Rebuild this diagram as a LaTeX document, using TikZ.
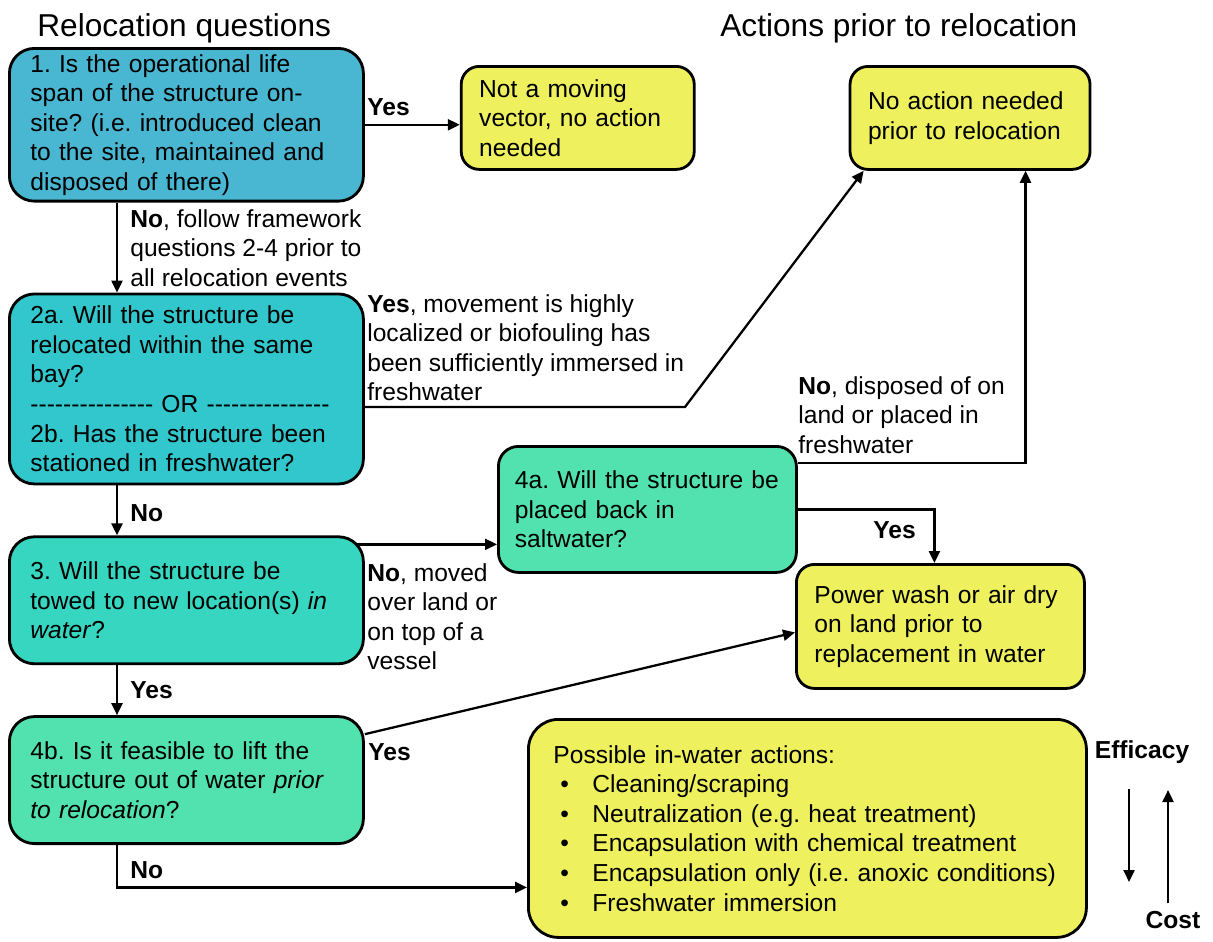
\documentclass[tikz,border=0pt]{standalone}
\usepackage{fontspec}
\setmainfont{Liberation Sans}
\usetikzlibrary{positioning, arrows.meta}
\definecolor{qone}{RGB}{73,183,209}
\definecolor{qtwo}{RGB}{49,199,204}
\definecolor{qthree}{RGB}{54,214,193}
\definecolor{qfour}{RGB}{82,226,175}
\definecolor{act}{RGB}{238,240,93}
\tikzset{%
  question/.style = {rectangle, rounded corners=0.5cm, draw, line width=1.6pt,
                     align=left, anchor=north west, inner xsep=0.42cm,
                     text width=6.24cm},
  action/.style = {rectangle, rounded corners=0.36cm, draw, line width=1.6pt,
                   fill=act, align=left, anchor=north west, inner xsep=0.36cm},
  answer/.style = {inner sep=0pt, align=left, anchor=north west},
  heading/.style = {inner sep=0pt, anchor=base west,
                    font=\fontsize{18pt}{21pt}\selectfont},
  arr/.style = {-{Triangle[length=0.24cm, width=0.22cm]}, line width=1.3pt}
}
\newcommand{\orrule}{\foreach \k in {1,...,15}{-\kern0pt}}
\newcommand{\bul}{\hspace*{0.14cm}\makebox[0.64cm][l]{\textbullet}}
\frenchspacing

\begin{document}
\begin{tikzpicture}[font=\fontsize{14pt}{16.8pt}\selectfont]
    \useasboundingbox (0,0) rectangle (24.26,-18.82);

    \node (head1) [heading] at (0.74,-0.72) {Relocation questions};
    \node (head2) [heading] at (14.4,-0.72) {Actions prior to relocation};

    % left column of questions
    \node (q1)  [question, fill=qone, minimum height=3.02cm] at (0.16,-0.94)
      {1. Is the operational life\\span of the structure on-\\site? (i.e. introduced clean\\to the site, maintained and\\disposed of there)};
    \node (q2)  [question, fill=qtwo, minimum height=3.8cm,
                 below right=1.8cm and 0cm of q1.south west]
      {2a. Will the structure be\\relocated within the same\\bay?\\\orrule{} OR \orrule\\2b. Has the structure been\\stationed in freshwater?};
    \node (q3)  [question, fill=qthree, minimum height=2.54cm,
                 below right=1.0cm and 0cm of q2.south west]
      {3. Will the structure be\\towed to new location(s) \textit{in}\\\textit{water}?};
    \node (q4b) [question, fill=qfour, minimum height=2.54cm,
                 below right=1.0cm and 0cm of q3.south west]
      {4b. Is it feasible to lift the\\structure out of water \textit{prior}\\\textit{to relocation}?};
    \node (q4a) [question, fill=qfour, rounded corners=0.4cm, inner xsep=0.33cm,
                 text width=5.3cm, minimum height=2.52cm] at (9.94,-8.9)
      {4a. Will the structure be\\placed back in\\saltwater?};

    % actions
    \node (y1)  [action, text width=3.94cm, minimum height=2.06cm,
                 below right=0.36cm and 1.9cm of q1.north east]
      {Not a moving\\vector, no action\\needed};
    \node (y2)  [action, anchor=west, text width=4.08cm, minimum height=2.06cm,
                 right=3.06cm of y1]
      {No action needed\\prior to relocation};
    \node (y3)  [action, text width=5.04cm, minimum height=2.48cm] at (15.9,-11.26)
      {Power wash or air dry\\on land prior to\\replacement in water};
    \node (y4)  [action, rounded corners=0.6cm, inner xsep=0.5cm, text width=10.16cm,
                 minimum height=4.36cm] at (10.54,-14.36)
      {Possible in-water actions:\\
       \bul Cleaning/scraping\\
       \bul Neutralization (e.g. heat treatment)\\
       \bul Encapsulation with chemical treatment\\
       \bul Encapsulation only (i.e. anoxic conditions)\\
       \bul Freshwater immersion};

    % answers
    \node (yes1) [answer] at (7.34,-1.96)  {\textbf{Yes}};
    \node (no1)  [answer] at (2.6,-4.18)   {\textbf{No}, follow framework\\questions 2-4 prior to\\all relocation events};
    \node (yes2) [answer] at (7.34,-5.88)  {\textbf{Yes}, movement is highly\\localized or biofouling has\\been sufficiently immersed in\\freshwater};
    \node (no2)  [answer] at (2.6,-10.08)  {\textbf{No}};
    \node (no3)  [answer] at (7.34,-11.26) {\textbf{No}, moved\\over land or\\on top of a\\vessel};
    \node (yes3) [answer] at (2.6,-13.62)  {\textbf{Yes}};
    \node (no4)  [answer] at (15.96,-7.52) {\textbf{No}, disposed of on\\land or placed in\\freshwater};
    \node (yes4) [answer] at (17.46,-10.42) {\textbf{Yes}};
    \node (yes5) [answer] at (7.36,-14.86) {\textbf{Yes}};
    \node (no5)  [answer] at (2.6,-17.22)  {\textbf{No}};

    \node (efficacy) [font=\bfseries\fontsize{14pt}{16.8pt}\selectfont, inner sep=0pt] at (22.84,-15.04) {Efficacy};
    \node (cost)     [font=\bfseries\fontsize{14pt}{16.8pt}\selectfont, inner sep=0.15cm] at (23.46,-18.4) {Cost};

    \coordinate (spine) at (2.34,0);
    \coordinate (bend)  at (13.7,-8.14);
    \coordinate (effbot) at (22.58,-17.64);
    \coordinate (costtop) at (23.36,-15.8);

    \path[arr] (q1)                 edge (q1 -| y1.west)
               (q1.south -| spine)  edge (q2.north -| spine)
               (q2.south -| spine)  edge (q3.north -| spine)
               (q3.south -| spine)  edge (q4b.north -| spine)
               ([yshift=-0.38cm]q4b.north east) edge ([yshift=-0.12cm]y3.west);
    \draw[arr] (q2.east |- bend) -- (bend) -- ([xshift=0.3cm]y2.south west);
    \draw[arr] ([xshift=-0.16cm, yshift=-0.18cm]q3.north east) coordinate (s3)
               -- (s3 -| q4a.west);
    \draw[arr] ([yshift=-0.36cm]q4a.north east) -| ([xshift=1.11cm]y2.south);
    \draw[arr] (q4a.east) -| ([xshift=-0.12cm]y3.north);
    \draw[arr] (q4b.south -| spine) |- ([yshift=-1.18cm]y4.west);

    \draw[arr] ([yshift=-0.5cm]efficacy.south -| effbot) -- (effbot);
    \draw[arr] (cost.north -| costtop) -- (costtop);
\end{tikzpicture}
\end{document}
